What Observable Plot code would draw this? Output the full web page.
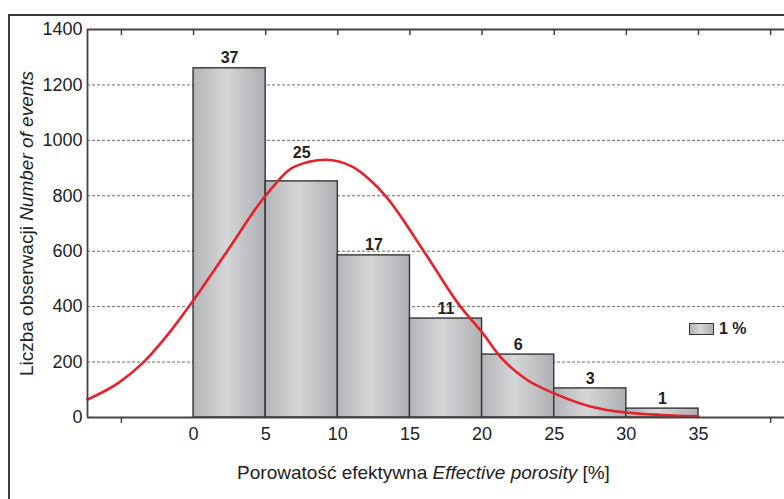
<!DOCTYPE html>
<html>
<head>
<meta charset="utf-8">
<script src="https://cdn.jsdelivr.net/npm/d3@7"></script>
<script src="https://cdn.jsdelivr.net/npm/@observablehq/plot@0.6"></script>
<style>
  html, body { margin: 0; padding: 0; background: #fff; }
  body { width: 784px; height: 499px; overflow: hidden; font-family: "Liberation Sans", Arial, sans-serif; }
  #wrap { position: relative; width: 784px; height: 499px; }
  #outer { position: absolute; left: 8px; top: 14px; width: 800px; height: 500px;
           border-top: 2px solid #3a3a3a; border-left: 2px solid #3a3a3a; box-sizing: border-box; pointer-events: none; }
  #legend { position: absolute; left: 689px; top: 320px; display: flex; align-items: center; gap: 5px;
            font: bold 16px "Liberation Sans", Arial, sans-serif; color: #222; }
  #legend .box { width: 23px; height: 10px; border: 1.3px solid #333;
                 background: linear-gradient(to right, #b3b4b7 0%, #d5d6d8 45%, #aeafb2 100%); }
</style>
</head>
<body>
<div id="wrap">
  <div id="chart"></div>
  <div id="outer"></div>
  <div id="legend"><div class="box"></div><span>1 %</span></div>
</div>
<script>
// ---- data ----
const binStart = [0, 5, 10, 15, 20, 25, 30];
const binEnd   = [5, 10, 15, 20, 25, 30, 35];
const counts   = [1260, 852, 585, 357, 227, 105, 32];
const percents = [37, 25, 17, 11, 6, 3, 1];

const curveX = [-7.35, -5.2, -3.46, -1.5, -0.33, 2.33, 4.99, 7.0, 9.15, 11.0, 12.27, 13.3, 15.96, 18.5, 20, 21.3, 23, 25, 27.5, 30, 32.5, 35];
const curveY = [65, 125, 200, 318, 400, 600, 800, 905, 930, 905, 855, 800, 600, 400, 307, 217, 140, 87, 40, 18, 9, 4];

const xTickLabels = [0, 5, 10, 15, 20, 25, 30, 35];
const xTopTicks = [-5, 0, 5, 10, 15, 20, 25, 30, 35, 40];
const xOuterTicks = [-5, 40];
const yTicks = [0, 200, 400, 600, 800, 1000, 1200, 1400];
const yGrid = [200, 400, 600, 800, 1000, 1200];
const xDomain = [-7.35, 40.96];
const yDomain = [0, 1400];

const bars = binStart.map((s, i) => ({x1: s, x2: binEnd[i], count: counts[i], pct: percents[i]}));
const curve = curveX.map((x, i) => ({x, y: curveY[i]}));

const font = "Liberation Sans, Arial, sans-serif";

const chart = Plot.plot({
  width: 784,
  height: 499,
  marginLeft: 87,
  marginRight: 0,
  marginTop: 29,
  marginBottom: 82,
  style: {fontFamily: font, color: "#222", background: "transparent", overflow: "visible"},
  x: {domain: xDomain},
  y: {domain: yDomain},
  marks: [
    Plot.ruleY(yGrid, {stroke: "#444", strokeWidth: 0.8, strokeDasharray: "3,2"}),
    Plot.rect(bars, {x1: "x1", x2: "x2", y1: 0, y2: "count", fill: "url(#barGrad)", stroke: "#333", strokeWidth: 1.4}),
    Plot.line(curve, {x: "x", y: "y", stroke: "#e8202a", strokeWidth: 2.6, curve: "monotone-x"}),
    Plot.text(bars.filter(d => d.pct !== 25), {x: d => (d.x1 + d.x2) / 2, y: "count", text: d => String(d.pct), dy: -10, fontSize: 16, fontWeight: "bold", fill: "#222"}),
    Plot.text(bars.filter(d => d.pct === 25), {x: d => (d.x1 + d.x2) / 2, y: "count", text: d => String(d.pct), dy: -28, fontSize: 16, fontWeight: "bold", fill: "#222"}),
    Plot.ruleY([0, 1400], {stroke: "#444", strokeWidth: 1.8}),
    Plot.ruleX([xDomain[0]], {y1: 0, y2: 1400, stroke: "#444", strokeWidth: 1.8}),
    Plot.ruleX(xTopTicks, {x: d => d, y1: 1400, y2: 1378, stroke: "#444", strokeWidth: 1.5}),
    Plot.axisX(xOuterTicks, {anchor: "bottom", tickSize: 6, tickFormat: () => "", stroke: "#444", strokeWidth: 1.5}),
    Plot.axisX(xTickLabels, {anchor: "bottom", tickSize: 0, tickPadding: 10, fontSize: 18, label: null, fill: "#222", tickFormat: d => String(d)}),
    Plot.axisY(yTicks, {anchor: "left", tickSize: 0, tickPadding: 5, fontSize: 18, label: null, fill: "#222", tickFormat: d => String(d)}),
    () => {
      const ns = "http://www.w3.org/2000/svg";
      const defs = document.createElementNS(ns, "defs");
      defs.innerHTML = `<linearGradient id="barGrad" x1="0" y1="0" x2="1" y2="0">
        <stop offset="0%" stop-color="#b3b4b7"/>
        <stop offset="45%" stop-color="#d5d6d8"/>
        <stop offset="100%" stop-color="#aeafb2"/>
      </linearGradient>`;
      return defs;
    }
  ]
});

document.getElementById("chart").appendChild(chart);

// Axis titles with mixed italic
const svg = d3.select(chart);
const xt = svg.append("text")
  .attr("x", 423.5).attr("y", 479)
  .attr("text-anchor", "middle")
  .attr("font-size", 19).attr("fill", "#222").attr("font-family", font);
xt.append("tspan").text("Porowatość efektywna ");
xt.append("tspan").attr("font-style", "italic").text("Effective porosity");
xt.append("tspan").text(" [%]");

const yt = svg.append("text")
  .attr("transform", "translate(33,223.5) rotate(-90)")
  .attr("text-anchor", "middle")
  .attr("font-size", 19).attr("fill", "#222").attr("font-family", font);
yt.append("tspan").text("Liczba obserwacji ");
yt.append("tspan").attr("font-style", "italic").text("Number of events");
</script>
</body>
</html>
